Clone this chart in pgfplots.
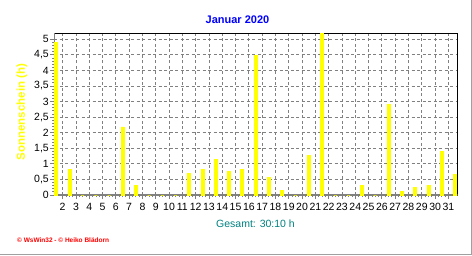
\documentclass[border=0pt]{standalone}
\usepackage{fontspec}
\setmainfont{Liberation Sans}
\usepackage{pgfplots}
\pgfplotsset{compat=1.18}
\definecolor{sunyellow}{RGB}{255,255,0}
\definecolor{titleblue}{RGB}{0,0,255}
\definecolor{teal128}{RGB}{0,128,128}
\definecolor{gridgray}{RGB}{128,128,128}
\definecolor{framegray}{RGB}{160,160,160}
\begin{document}
\begin{tikzpicture}[x=1pt,y=1pt]
\path[use as bounding box] (0,0) rectangle (472,255);
\begin{axis}[
  at={(54pt,60pt)}, anchor=south west,
  scale only axis, width=403.7pt, height=162pt,
  xmin=0.85, xmax=31.2, ymin=0, ymax=5.2,
  ybar, bar width=3pt,
  xtick={1.5,2.5,...,30.5},
  xticklabels={2,3,4,5,6,7,8,9,10,11,12,13,14,15,16,17,18,19,20,21,22,23,24,25,26,27,28,29,30,31},
  minor x tick num=3,
  ytick={0,0.5,1,1.5,2,2.5,3,3.5,4,4.5,5},
  minor y tick num=4,
  /pgf/number format/use comma,
  /pgf/number format/fixed,
  /pgf/number format/assume math mode=true,
  tick label style={font=\fontsize{10.5}{12}\selectfont, black},
  yticklabel style={inner sep=1pt},
  xticklabel style={inner sep=0pt, yshift=-4pt},
  tick align=outside, tick pos=left,
  major tick length=4pt, minor tick length=2pt,
  every tick/.style={gridgray, line width=0.8pt},
  xmajorgrids, ymajorgrids,
  major grid style={gridgray, dash pattern=on 3pt off 2.5pt, line width=0.8pt},
  axis line style={black, line width=0.8pt},
]
\draw[gridgray, line width=2pt] (rel axis cs:0,0) -- (rel axis cs:0,1);
\draw[gridgray, line width=2pt] (rel axis cs:0,0) -- (rel axis cs:1,0);
\addplot[fill=sunyellow, draw=sunyellow, line width=0.5pt] coordinates {
(1,4.90) (2,0.83) (3,0) (4,0) (5,0) (6,2.19) (7,0.32) (8,0) (9,0) (10,0)
(11,0.70) (12,0.83) (13,1.15) (14,0.75) (15,0.83) (16,4.49) (17,0.57) (18,0.16)
(19,0) (20,1.26) (21,5.20) (22,0) (23,0) (24,0.32) (25,0) (26,2.92) (27,0.11)
(28,0.25) (29,0.32) (30,1.41) (31,0.67)
};
\end{axis}
\node[text=titleblue, font=\fontsize{11}{13}\selectfont\bfseries] at (237.5,235.3) {Januar 2020};
\node[text=sunyellow, font=\fontsize{11.5}{13}\selectfont\bfseries, rotate=90] at (22,143) {Sonnenschein (h)};
\node[text=teal128, font=\fontsize{10.5}{12}\selectfont] at (255.5,31.5) {Gesamt: 30:10 h};
\node[text=red, font=\fontsize{6.5}{7.5}\selectfont\bfseries, anchor=west, inner sep=0pt] at (17,14.5) {© WsWin32 - © Heiko Blädorn};
\draw[framegray, line width=1pt] (0,0.5) -- (471.5,0.5) -- (471.5,255);
\end{tikzpicture}
\end{document}
